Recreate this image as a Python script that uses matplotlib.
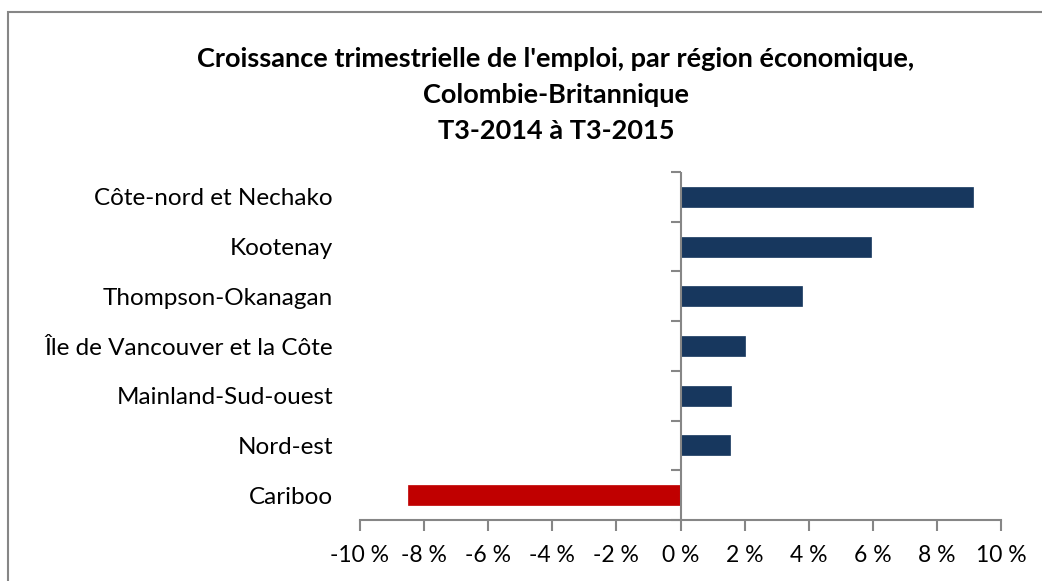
import numpy as np
import matplotlib
matplotlib.use('Agg')
import matplotlib.pyplot as plt
from matplotlib.markers import TICKLEFT
from matplotlib.patches import Rectangle

plt.rcParams['font.family'] = ['Lato', 'DejaVu Sans']

regions = ['Côte-nord et Nechako', 'Kootenay', 'Thompson-Okanagan',
           'Île de Vancouver et la Côte', 'Mainland-Sud-ouest', 'Nord-est', 'Cariboo']
croissance = [9.14, 5.95, 3.78, 2.02, 1.57, 1.54, -8.49]
xticks = [-10, -8, -6, -4, -2, 0, 2, 4, 6, 8, 10]
xlabels = ['%d %%' % t for t in xticks]
titre = "Croissance trimestrielle de l'emploi, par région économique,\nColombie-Britannique\nT3-2014 à T3-2015"

bleu = '#17375E'
rouge = '#C00000'
gris = '#868686'

fig = plt.figure(figsize=(10.42, 5.81), dpi=100)
fig.patches.append(Rectangle((8 / 1042, -0.1), 1.1, 1.1 - 12 / 581, transform=fig.transFigure,
                             fill=False, edgecolor=gris, linewidth=1.5))

ax = fig.add_axes([360 / 1042, 1 - 520 / 581, 641 / 1042, 348 / 581])

n = len(regions)
y = np.arange(n)[::-1]
couleurs = [rouge if v < 0 else bleu for v in croissance]
ax.barh(y, croissance, height=0.4, color=couleurs, edgecolor=couleurs, linewidth=0.5)

ax.set_xlim(-10, 10)
ax.set_ylim(-0.5, n - 0.5)
ax.set_xticks(xticks)
ax.set_xticklabels(xlabels, fontsize=16.5)
ax.set_yticks(y)
ax.set_yticklabels(regions, fontsize=17.5)
ax.tick_params(axis='y', length=0, pad=19.5)
ax.tick_params(axis='x', direction='out', length=8, width=1.5, color=gris, pad=10)

for s in ['top', 'right', 'left']:
    ax.spines[s].set_visible(False)
ax.spines['bottom'].set_color(gris)
ax.spines['bottom'].set_linewidth(1.5)

# axe vertical au zéro avec graduations entre les catégories
ax.axvline(0, color=gris, linewidth=1.5, zorder=3)
limites = np.arange(n + 1) - 0.5
ax.plot(np.zeros(len(limites)), limites, linestyle='none', marker=TICKLEFT,
        markersize=7, markeredgewidth=1.5, color=gris, clip_on=False, zorder=3)

fig.text(556 / 1042, 1 - 95 / 581, titre, ha='center', va='center', fontsize=19.5,
         fontweight='bold', linespacing=1.6)

fig.savefig('out.png', dpi=100)
